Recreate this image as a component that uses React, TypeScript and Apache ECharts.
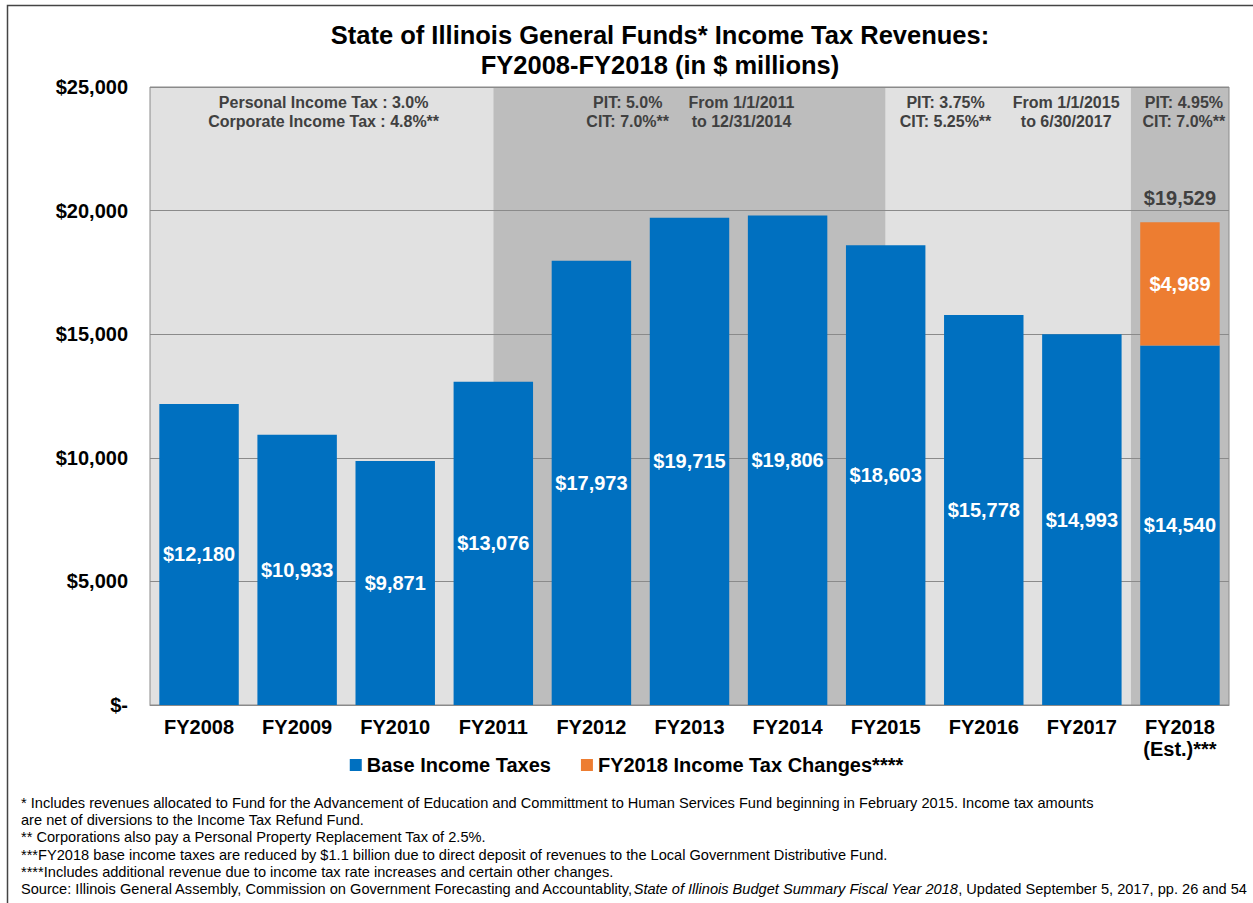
import React, { useEffect, useRef } from "react";
import * as echarts from "echarts";

const categories = [
  "FY2008", "FY2009", "FY2010", "FY2011", "FY2012", "FY2013",
  "FY2014", "FY2015", "FY2016", "FY2017", "FY2018\n(Est.)***",
];
const baseIncomeTaxes = [12180, 10933, 9871, 13076, 17973, 19715, 19806, 18603, 15778, 14993, 14540];
const incomeTaxChanges = [null, null, null, null, null, null, null, null, null, null, 4989];
const totalLabels = [null, null, null, null, null, null, null, null, null, null, 19529];
const seriesNames = ["Base Income Taxes", "FY2018 Income Tax Changes****"];

// rate periods: start / end in category units, shade kind
const periodStart = [0, 3.5, 7.5, 10];
const periodEnd = [3.5, 7.5, 10, 11];
const periodKind = ["light", "dark", "light", "dark"];

const notes = [
  "Personal Income Tax : 3.0%\nCorporate Income Tax : 4.8%**",
  "PIT: 5.0%\nCIT: 7.0%**",
  "From 1/1/2011\nto 12/31/2014",
  "PIT: 3.75%\nCIT: 5.25%**",
  "From 1/1/2015\nto 6/30/2017",
  "PIT: 4.95%\nCIT: 7.0%**",
];
const noteAnchor = [1.77, 4.87, 6.03, 8.11, 9.34, 10.54];

const yTicks = [0, 5000, 10000, 15000, 20000, 25000];

const footnotes = [
  "* Includes revenues allocated to Fund for the Advancement of Education and Committment to Human Services Fund beginning in February 2015. Income tax amounts",
  "are net of diversions to the Income Tax Refund Fund.",
  "** Corporations also pay a Personal Property Replacement Tax of 2.5%.",
  "***FY2018 base income taxes are reduced by $1.1 billion due to direct deposit of revenues to the Local Government Distributive Fund.",
  "****Includes additional revenue due to income tax rate increases and certain other changes.",
];
const sourcePrefix = "Source: Illinois General Assembly, Commission on Government Forecasting and Accountablity,";
const sourceItalic = "State of Illinois Budget Summary Fiscal Year 2018";
const sourceSuffix = ", Updated September 5, 2017, pp. 26 and 54";

const FONT = '"Liberation Sans", Arial, Helvetica, sans-serif';
const BLUE = "#0070C0";
const ORANGE = "#ED7D31";
const SHADE: Record<string, string> = { light: "#e1e1e1", dark: "#bdbdbd" };

function money(v: number) {
  if (v === 0) return "$-";
  return "$" + String(v).replace(/\B(?=(\d{3})+(?!\d))/g, ",");
}

export default function App() {
  const ref = useRef<HTMLDivElement>(null);
  useEffect(() => {
    document.body.style.margin = "0";
    const chart = echarts.init(ref.current!, null, { renderer: "svg" });
    const footY = [803, 820, 837, 855, 872];
    const graphic: any[] = [
      {
        type: "rect",
        shape: { x: 7.5, y: 5.5, width: 1260, height: 910 },
        style: { fill: "none", stroke: "#444", lineWidth: 1.5 },
        silent: true,
      },
      {
        type: "text",
        x: 660,
        y: 20,
        style: {
          text: "State of Illinois General Funds* Income Tax Revenues:\nFY2008-FY2018 (in $ millions)",
          align: "center",
          verticalAlign: "top",
          font: `bold 25.5px ${FONT}`,
          lineHeight: 30,
          fill: "#000",
        },
      },
      ...footnotes.map((t, i) => ({
        type: "text",
        x: 21,
        y: footY[i],
        style: {
          text: t,
          verticalAlign: "middle",
          font: `14.6px ${FONT}`,
          fill: "#000",
        },
      })),
      {
        type: "text",
        x: 21,
        y: 889,
        style: {
          text: `{n|${sourcePrefix}}{i|${sourceItalic}}{n|${sourceSuffix}}`,
          verticalAlign: "middle",
          rich: {
            n: { fontFamily: FONT, fontSize: 14.6, fill: "#000" } as any,
            i: { fontFamily: FONT, fontSize: 14.6, fontStyle: "italic", fill: "#000" } as any,
          },
        },
      },
    ];

    chart.setOption({
      animation: false,
      textStyle: { fontFamily: FONT },
      grid: {
        left: 150,
        right: 24,
        top: 87,
        bottom: 198,
        show: true,
        borderColor: "#8a8a8a",
        borderWidth: 1,
      },
      legend: {
        data: seriesNames,
        top: 750,
        left: "center",
        icon: "rect",
        itemWidth: 12,
        itemHeight: 12,
        itemGap: 30,
        textStyle: { fontSize: 20, fontWeight: "bold", color: "#000", fontFamily: FONT },
      },
      xAxis: [
        {
          type: "category",
          data: categories,
          axisLine: { lineStyle: { color: "#8a8a8a" } },
          axisTick: { show: false },
          axisLabel: {
            margin: 11,
            fontSize: 20,
            fontWeight: "bold",
            color: "#000",
            lineHeight: 22,
            interval: 0,
          },
        },
        { type: "value", min: 0, max: 11, show: false },
      ],
      yAxis: {
        type: "value",
        min: 0,
        max: 25000,
        interval: 5000,
        axisLine: { show: false },
        axisTick: { show: false },
        splitLine: { lineStyle: { color: "#8a8a8a", width: 1 } },
        axisLabel: {
          margin: 22,
          fontSize: 20,
          fontWeight: "bold",
          color: "#000",
          formatter: (v: number) => money(v),
        },
      },
      series: [
        {
          type: "custom",
          name: "periods",
          xAxisIndex: 1,
          z: -1,
          silent: true,
          data: periodStart.map((s, i) => [s, periodEnd[i]]),
          encode: { x: [0, 1] },
          renderItem: (params: any, api: any) => {
            const p0 = api.coord([api.value(0), yTicks[yTicks.length - 1]]);
            const p1 = api.coord([api.value(1), 0]);
            return {
              type: "rect",
              shape: { x: p0[0], y: p0[1], width: p1[0] - p0[0], height: p1[1] - p0[1] },
              style: { fill: SHADE[periodKind[params.dataIndex]] },
            };
          },
        },
        {
          type: "custom",
          name: "notes",
          xAxisIndex: 1,
          z: 5,
          silent: true,
          data: noteAnchor.map((a) => [a, 25000]),
          encode: { x: 0, y: 1 },
          renderItem: (params: any, api: any) => {
            const p = api.coord([api.value(0), api.value(1)]);
            return {
              type: "text",
              x: p[0],
              y: p[1] + 6,
              style: {
                text: notes[params.dataIndex],
                align: "center",
                verticalAlign: "top",
                font: `bold 16px ${FONT}`,
                lineHeight: 19,
                fill: "#404040",
              },
            };
          },
        },
        {
          type: "bar",
          name: seriesNames[0],
          stack: "t",
          data: baseIncomeTaxes,
          barCategoryGap: "19%",
          itemStyle: { color: BLUE },
          label: {
            show: true,
            position: "inside",
            color: "#fff",
            fontSize: 20,
            fontWeight: "bold",
            formatter: (p: any) => money(p.value),
          },
        },
        {
          type: "bar",
          name: seriesNames[1],
          stack: "t",
          data: incomeTaxChanges,
          itemStyle: { color: ORANGE },
          label: {
            show: true,
            position: "inside",
            color: "#fff",
            fontSize: 20,
            fontWeight: "bold",
            formatter: (p: any) => (p.value == null ? "" : money(p.value)),
          },
        },
        {
          type: "bar",
          name: "total",
          stack: "t",
          data: totalLabels.map((t) => (t == null ? null : 0)),
          itemStyle: { color: "transparent" },
          label: {
            show: true,
            position: "top",
            distance: 14,
            color: "#404040",
            fontSize: 20,
            fontWeight: "bold",
            formatter: (p: any) => {
              const t = totalLabels[p.dataIndex];
              return t == null ? "" : money(t);
            },
          },
        },
      ],
      graphic,
    });
    return () => chart.dispose();
  }, []);
  return <div ref={ref} style={{ width: 1253, height: 903, background: "#fff" }} />;
}
